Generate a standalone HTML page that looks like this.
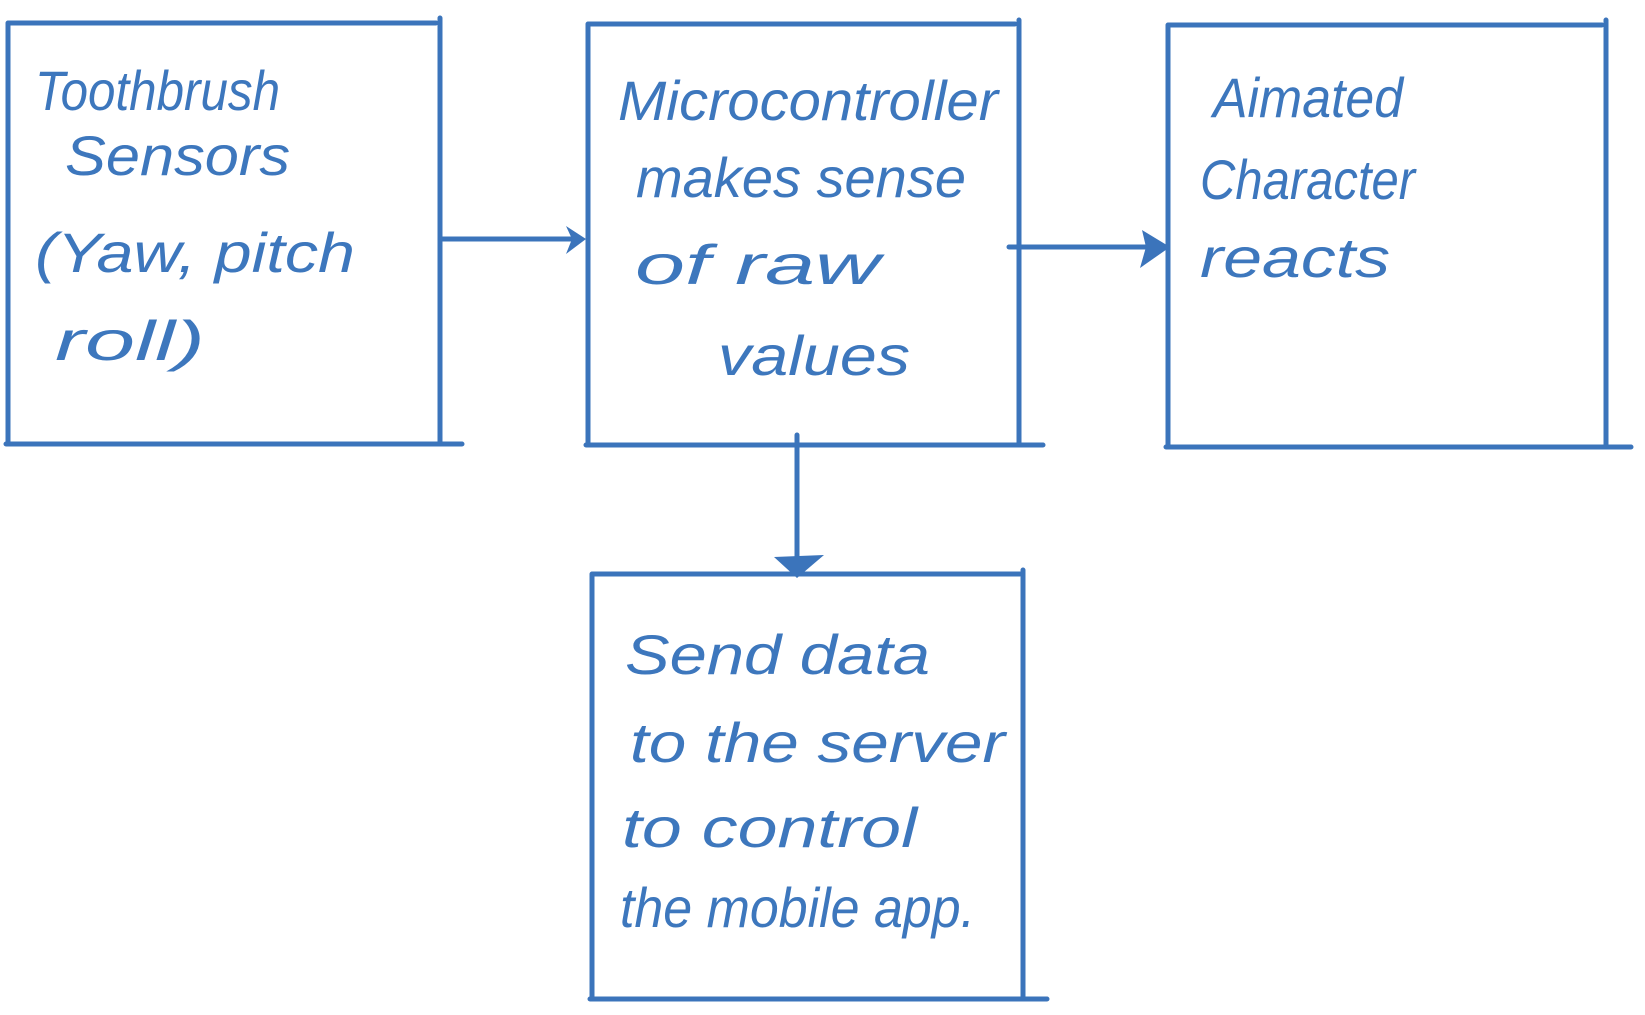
<!DOCTYPE html>
<html><head><meta charset="utf-8"><style>
html,body{margin:0;padding:0;background:#fff;}
svg{display:block}
text{font-family:"Liberation Sans",sans-serif;font-style:italic;fill:#3d77bd;font-size:56px;}
</style></head><body>
<svg width="1645" height="1015" viewBox="0 0 1645 1015" xmlns="http://www.w3.org/2000/svg">
<g stroke="#3b74bb" stroke-width="5" fill="none" stroke-linecap="round">
<path d="M8 23 H436 M440 18 V444 M8 23 V444 M6 444 H462"/>
<path d="M588 24 H1015 M1019 20 V445 M588 24 V445 M586 445 H1043"/>
<path d="M1168 25 H1602 M1606 20 V447 M1168 25 V447 M1166 447 H1631"/>
<path d="M592 574 H1020 M1023 570 V999 M592 574 V999 M590 999 H1047"/>
<path d="M440 239 H580"/>
<path d="M1009 247 H1160"/>
<path d="M797 435 V565"/>
</g>
<g fill="#3b74bb">
<polygon points="586,239 566,226 572,239 566,254"/>
<polygon points="1170,247 1142,230 1146,247 1140,268"/>
<polygon points="797,578 774,557 824,555"/>
</g>
<text x="35" y="110" textLength="245" lengthAdjust="spacingAndGlyphs">Toothbrush</text>
<text x="65" y="175" textLength="225" lengthAdjust="spacingAndGlyphs">Sensors</text>
<text x="35" y="272" textLength="320" lengthAdjust="spacingAndGlyphs">(Yaw, pitch</text>
<text x="55" y="360" textLength="150" lengthAdjust="spacingAndGlyphs">roll)</text>
<text x="618" y="120" textLength="380" lengthAdjust="spacingAndGlyphs">Microcontroller</text>
<text x="636" y="197" textLength="330" lengthAdjust="spacingAndGlyphs">makes sense</text>
<text x="635" y="284" textLength="245" lengthAdjust="spacingAndGlyphs">of raw</text>
<text x="718" y="375" textLength="192" lengthAdjust="spacingAndGlyphs">values</text>
<text x="1213" y="117" textLength="190" lengthAdjust="spacingAndGlyphs">Aimated</text>
<text x="1200" y="199" textLength="215" lengthAdjust="spacingAndGlyphs">Character</text>
<text x="1200" y="277" textLength="190" lengthAdjust="spacingAndGlyphs">reacts</text>
<text x="625" y="674" textLength="305" lengthAdjust="spacingAndGlyphs">Send data</text>
<text x="630" y="762" textLength="375" lengthAdjust="spacingAndGlyphs">to the server</text>
<text x="622" y="847" textLength="295" lengthAdjust="spacingAndGlyphs">to control</text>
<text x="620" y="927" textLength="355" lengthAdjust="spacingAndGlyphs">the mobile app.</text>
</svg>
</body></html>
